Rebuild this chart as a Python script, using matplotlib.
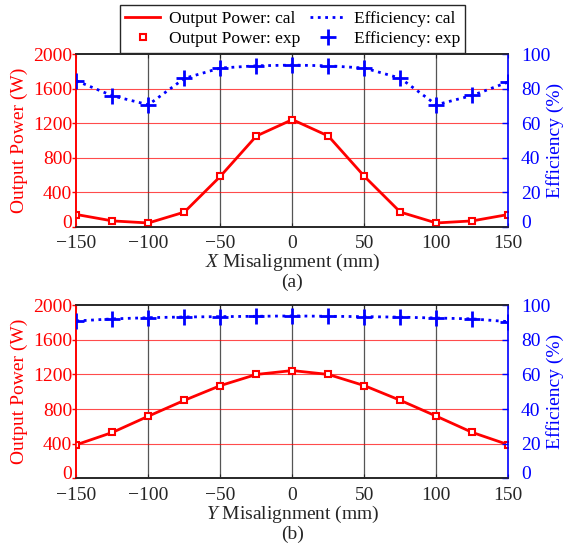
import numpy as np
import matplotlib
matplotlib.use("Agg")
import matplotlib.pyplot as plt
from matplotlib.lines import Line2D
from matplotlib.transforms import ScaledTranslation

plt.rcParams['font.family'] = ['Liberation Serif', 'DejaVu Serif']
plt.rcParams['mathtext.fontset'] = 'custom'
plt.rcParams['mathtext.rm'] = 'Liberation Serif'
plt.rcParams['mathtext.it'] = 'Liberation Serif:italic'

# misalignment positions (mm)
offset = [-150, -125, -100, -75, -50, -25, 0, 25, 50, 75, 100, 125, 150]

# (a) X misalignment
x_power = [140, 66, 42, 168, 583, 1050, 1240, 1050, 583, 168, 42, 66, 140]
x_eff = [84.5, 75.8, 70.6, 85.9, 91.9, 93.2, 93.6, 93.2, 91.9, 86.0, 70.6, 76.0, 83.8]

# (b) Y misalignment
y_power = [388, 530, 718, 901, 1071, 1200, 1245, 1200, 1071, 901, 718, 530, 388]
y_eff = [90.9, 92.1, 92.8, 93.2, 93.4, 93.6, 93.8, 93.6, 93.4, 93.1, 92.6, 92.1, 90.5]

xticks = [-150, -100, -50, 0, 50, 100, 150]
pticks = [0, 400, 800, 1200, 1600, 2000]
eticks = [0, 20, 40, 60, 80, 100]

RED = '#ff0000'
BLUE = '#0000ff'
DARK = '#262626'
FS = 14

fig = plt.figure(figsize=(5.66, 5.46), dpi=100)


def panel(rect, power, eff, axis_name, tag):
    ax = fig.add_axes(rect)
    ax2 = ax.twinx()

    ax.plot(offset, power, color=RED, lw=2, zorder=3)
    ax.plot(offset, power, ls='none', marker='s', ms=4.5, mfc='white',
            mec=RED, mew=1.5, zorder=4)
    ax2.plot(offset, eff, color=BLUE, lw=2, ls=':', zorder=3)
    ax2.plot(offset, eff, ls='none', marker='+', ms=11, mec=BLUE, mew=2,
             zorder=4)

    ax.set_xlim(-150, 150)
    ax.set_ylim(0, 2000)
    ax2.set_ylim(0, 100)
    ax.set_xticks(xticks)
    ax.set_yticks(pticks)
    ax2.set_yticks(eticks)

    # grid: dark vertical, red horizontal
    for xv in xticks[1:-1]:
        ax.axvline(xv, color='#555555', lw=0.9, zorder=1)
    for yv in pticks[1:-1]:
        ax.axhline(yv, color=RED, lw=0.8, alpha=0.7, zorder=1)

    ax.tick_params(axis='y', colors=RED, labelsize=FS, direction='out',
                   length=3, width=1, pad=0)
    ax.tick_params(axis='x', colors=DARK, labelsize=FS, direction='in',
                   length=3, top=True, pad=6)
    ax2.tick_params(axis='y', colors=BLUE, labelsize=FS, direction='in',
                    length=4, width=1, pad=9)

    # lift the "0" labels a bit so they clear the x tick labels
    lift = ScaledTranslation(0, 4 / 72, fig.dpi_scale_trans)
    for lab in (ax.get_yticklabels()[0], ax2.get_yticklabels()[0]):
        lab.set_transform(lab.get_transform() + lift)

    ax.spines['left'].set_color(RED)
    ax2.spines['left'].set_color(RED)
    ax2.spines['right'].set_color(BLUE)
    ax.spines['right'].set_visible(False)
    for a in (ax, ax2):
        a.spines['top'].set_color(DARK)
        a.spines['bottom'].set_color(DARK)
        for s in a.spines.values():
            s.set_linewidth(1.2)

    ax.set_ylabel('Output Power (W)', color=RED, fontsize=FS)
    ax.yaxis.set_label_coords(-0.112, 0.5)
    ax2.set_ylabel('Efficiency (%)', color=BLUE, fontsize=FS)
    ax2.yaxis.set_label_coords(1.088, 0.5)
    ax.set_xlabel(r'$\it{%s}$ Misalignment (mm)' % axis_name, color=DARK,
                  fontsize=FS, labelpad=0)
    ax.text(0.5, -0.325, tag, transform=ax.transAxes, ha='center',
            va='center', fontsize=FS, color=DARK)
    return ax, ax2


panel([0.135, 0.585, 0.763, 0.316], x_power, x_eff, 'X', '(a)')
panel([0.135, 0.124, 0.763, 0.317], y_power, y_eff, 'Y', '(b)')

handles = [
    Line2D([], [], color=RED, lw=2),
    Line2D([], [], ls='none', marker='s', ms=4.5, mfc='white', mec=RED, mew=1.5),
    Line2D([], [], color=BLUE, lw=2, ls=':'),
    Line2D([], [], ls='none', marker='+', ms=11, mec=BLUE, mew=2),
]
labels = ['Output Power: cal', 'Output Power: exp',
          'Efficiency: cal', 'Efficiency: exp']
leg = fig.legend(handles, labels, ncol=2, loc='upper center',
                 bbox_to_anchor=(0.517, 0.99), fontsize=12.5, frameon=True,
                 fancybox=False, edgecolor=DARK, framealpha=1,
                 handlelength=2.0, columnspacing=0.6, handletextpad=0.5,
                 borderpad=0.3, borderaxespad=0, labelspacing=0.25)
leg.get_frame().set_linewidth(1.0)
leg.set_zorder(10)

fig.savefig('out.png', dpi=100)
